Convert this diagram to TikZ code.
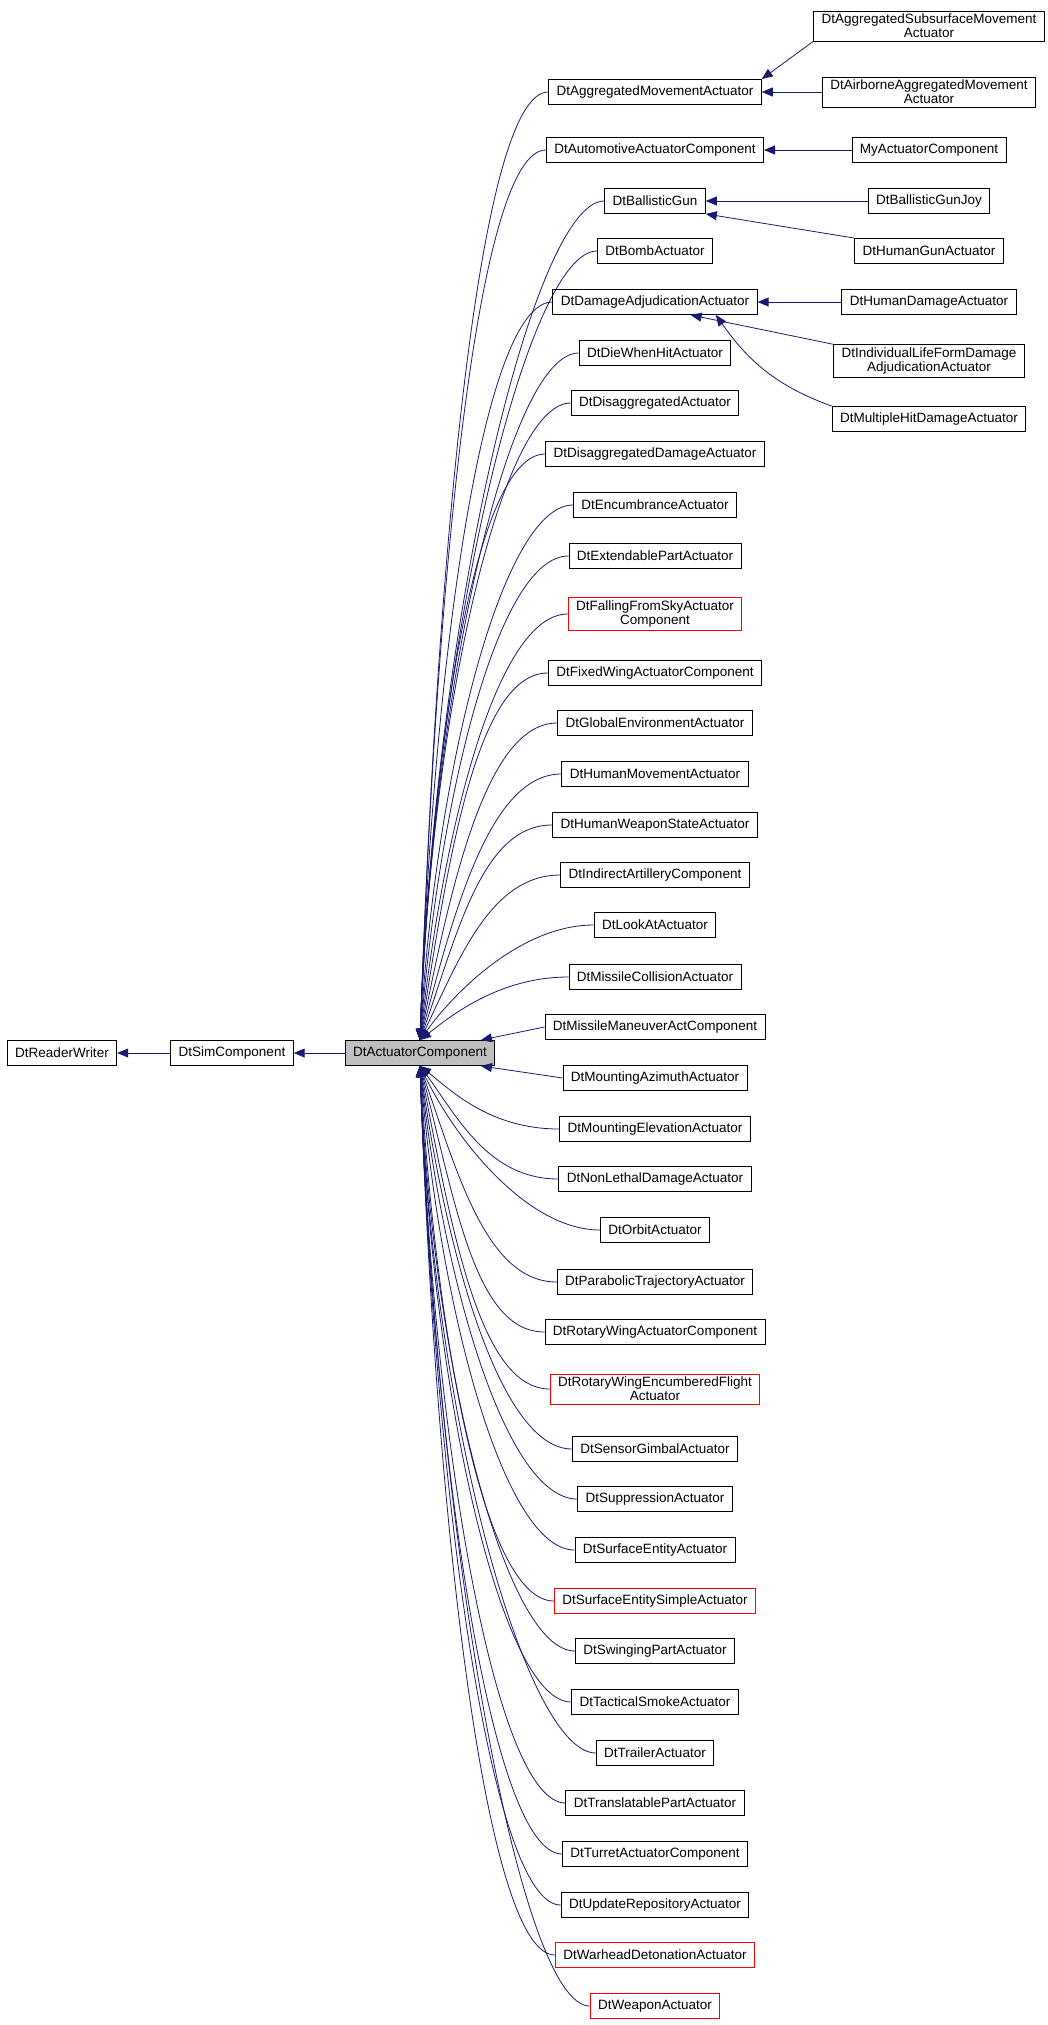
\documentclass[tikz,border=0pt]{standalone}
\usepackage{fontspec}
\setmainfont{Liberation Sans}
\usetikzlibrary{arrows.meta}
\definecolor{edgeblue}{HTML}{191970}
\definecolor{mainfill}{HTML}{BFBFBF}
\tikzset{
  cls/.style={draw=black, line width=0.9pt, inner sep=0pt, minimum height=25pt, inner xsep=8pt, inner ysep=3pt, align=center, font=\fontsize{13.5}{14}\selectfont},
  redcls/.style={cls, draw=red},
  edge/.style={draw=edgeblue, line width=0.8pt, -{Triangle[width=9pt,length=11pt]}},
}
\begin{document}
\begin{tikzpicture}[x=1pt, y=-1pt]
\useasboundingbox (0,0) rectangle (1048,2025);

\node[cls] (rw) at (62,1053) {DtReaderWriter};
\node[cls] (sim) at (232,1053) {DtSimComponent};
\node[cls, fill=mainfill] (act) at (420,1053) {DtActuatorComponent};
\draw[edge] (sim) -- (rw);
\draw[edge] (act) -- (sim);

% children of DtActuatorComponent
\foreach \n/\y/\t/\s in {
  agg/92/DtAggregatedMovementActuator/cls,
  auto/150/DtAutomotiveActuatorComponent/cls,
  ball/201/DtBallisticGun/cls,
  bomb/251/DtBombActuator/cls,
  dam/302/DtDamageAdjudicationActuator/cls,
  die/353/DtDieWhenHitActuator/cls,
  disagg/403/DtDisaggregatedActuator/cls,
  disdam/454/DtDisaggregatedDamageActuator/cls,
  enc/505/DtEncumbranceActuator/cls,
  ext/556/DtExtendablePartActuator/cls,
  fall/614/{DtFallingFromSkyActuator\\Component}/redcls,
  fixed/673/DtFixedWingActuatorComponent/cls,
  glob/723/DtGlobalEnvironmentActuator/cls,
  hmove/774/DtHumanMovementActuator/cls,
  hweap/825/DtHumanWeaponStateActuator/cls,
  indir/875/DtIndirectArtilleryComponent/cls,
  look/925/DtLookAtActuator/cls,
  mcoll/977/DtMissileCollisionActuator/cls,
  morbit/1230/DtOrbitActuator/cls,
  nonl/1179/DtNonLethalDamageActuator/cls,
  mel/1129/DtMountingElevationActuator/cls,
  para/1282/DtParabolicTrajectoryActuator/cls,
  rot/1332/DtRotaryWingActuatorComponent/cls,
  rotenc/1389/{DtRotaryWingEncumberedFlight\\Actuator}/redcls,
  sens/1449/DtSensorGimbalActuator/cls,
  supp/1499/DtSuppressionActuator/cls,
  surf/1550/DtSurfaceEntityActuator/cls,
  surfs/1601/DtSurfaceEntitySimpleActuator/redcls,
  swing/1651/DtSwingingPartActuator/cls,
  tact/1702/DtTacticalSmokeActuator/cls,
  trail/1753/DtTrailerActuator/cls,
  trans/1803/DtTranslatablePartActuator/cls,
  turr/1854/DtTurretActuatorComponent/cls,
  upd/1905/DtUpdateRepositoryActuator/cls,
  war/1955/DtWarheadDetonationActuator/redcls,
  weap/2006/DtWeaponActuator/redcls}
{
  \node[\s] (\n) at (655,\y) {\t};
  \pgfmathsetmacro{\dy}{abs(1053-\y)}
  \pgfmathsetmacro{\a}{min(88,atan(\dy/110)*1.1)}
  \pgfmathsetmacro{\d}{\dy*0.5}
  \ifdim\y pt<1053pt
    \draw[edge] (\n.west) to[out=180, in=\a, out distance=70pt, in distance=\d pt] (act.north);
  \else
    \draw[edge] (\n.west) to[out=180, in=-\a, out distance=70pt, in distance=\d pt] (act.south);
  \fi
}
\node[cls] (mman) at (655,1027) {DtMissileManeuverActComponent};
\node[cls] (maz) at (655,1078) {DtMountingAzimuthActuator};
\draw[edge] (mman.west) -- (act.12);
\draw[edge] (maz.west) -- (act.-12);

% second level
\node[cls] (subs) at (929,26) {DtAggregatedSubsurfaceMovement\\Actuator};
\node[cls] (air) at (929,92) {DtAirborneAggregatedMovement\\Actuator};
\node[cls] (my) at (929,150) {MyActuatorComponent};
\node[cls] (joy) at (929,201) {DtBallisticGunJoy};
\node[cls] (hgun) at (929,251) {DtHumanGunActuator};
\node[cls] (hdam) at (929,302) {DtHumanDamageActuator};
\node[cls] (indiv) at (929,361) {DtIndividualLifeFormDamage\\AdjudicationActuator};
\node[cls] (mult) at (929,419) {DtMultipleHitDamageActuator};

\draw[edge] (subs.south west) -- (agg.north east);
\draw[edge] (air) -- (agg);
\draw[edge] (my) -- (auto);
\draw[edge] (joy) -- (ball);
\draw[edge] (hgun.north west) -- (ball.south east);
\draw[edge] (hdam) -- (dam);
\draw[edge] (indiv.north west) -- (dam.-20);
\draw[edge] (mult.north west) to[out=160, in=-55] (dam.-12);
\end{tikzpicture}
\end{document}
